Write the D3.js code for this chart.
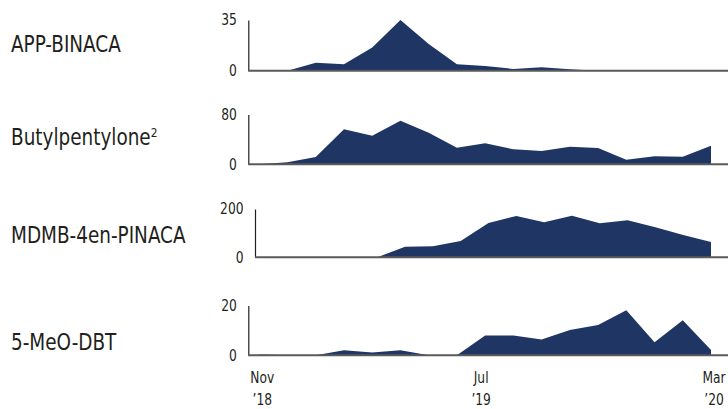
<!DOCTYPE html>
<html>
<head>
<meta charset="utf-8">
<script src="https://cdn.jsdelivr.net/npm/d3@7"></script>
<style>
  html, body { margin: 0; padding: 0; background: #fff; }
  svg { display: block; }
  text { font-family: "DejaVu Sans Condensed", "DejaVu Sans", sans-serif; fill: #231f20; }
</style>
</head>
<body>
<svg id="chart" width="728" height="409"></svg>
<script>
// ---- data ----
const months = ["Nov '18","Dec '18","Jan '19","Feb '19","Mar '19","Apr '19","May '19","Jun '19","Jul '19","Aug '19","Sep '19","Oct '19","Nov '19","Dec '19","Jan '20","Feb '20","Mar '20"];
const drugNames = ["APP-BINACA", "Butylpentylone", "MDMB-4en-PINACA", "5-MeO-DBT"];
const nameSuperscripts = ["", "2", "", ""];
const yMaxTicks = [35, 80, 200, 20];
const appBinaca      = [0, 0, 5.5, 4.4, 16, 35, 18.4, 4.4, 3.2, 1.2, 2.3, 1, 0, 0, 0, 0, 0];
const butylpentylone = [0, 3.2, 11.7, 56.5, 46, 70, 50.7, 26.7, 34, 24, 21.3, 28.3, 26.1, 7.5, 12.8, 12.3, 30];
const mdmb4en        = [0, 1, 1, 0.5, 0, 44, 45.5, 67.6, 142, 171, 145, 172, 141, 153, 124, 92, 63];
const meoDbt         = [0.3, 0, 0, 2, 1.1, 2, 0, 0, 8, 8, 6.3, 10.2, 12.2, 18.1, 5.2, 14.1, 2.1];
const seriesValues = [appBinaca, butylpentylone, mdmb4en, meoDbt];
const xTickMonths = ["Nov '18", "Jul '19", "Mar '20"];
const xTickLines = [["Nov", "\u201918"], ["Jul", "\u201919"], ["Mar", "\u201920"]];

// ---- layout ----
const svg = d3.select("#chart");
const panelTops = [20, 114.5, 209, 305.5];
const panelBottoms = [70.7, 164.3, 257.3, 355.3];
const labelBaselines = [52, 145, 243, 350];
const areaColor = "#1f3564";
const squeeze = 0.88;      // horizontal condensing to mimic a condensed face
const labelSqueeze = 0.91;
const xLabelNudge = [3, -4, 3];

seriesValues.forEach((vals, i) => {
  const g = svg.append("g");
  const tickStr = String(yMaxTicks[i]);
  const axisX = tickStr.length >= 3 ? 255 : 248.3;
  const x = d3.scalePoint().domain(months).range([axisX + 11, 711]);
  const y = d3.scaleLinear().domain([0, yMaxTicks[i]]).range([panelBottoms[i], panelTops[i]]);

  // area
  const area = d3.area()
    .x((d, j) => x(months[j]))
    .y0(y(0))
    .y1(d => y(d));
  g.append("path").datum(vals).attr("d", area).attr("fill", areaColor);

  // y axis
  const yAxis = d3.axisLeft(y).tickValues([0, yMaxTicks[i]]).tickSize(0).tickPadding(11.5);
  const ya = g.append("g").attr("transform", `translate(${axisX},0)`).call(yAxis);
  ya.attr("font-family", null);
  ya.select(".domain").attr("stroke", "#231f20").attr("stroke-width", 1.2);
  ya.selectAll("text").attr("font-size", 15.5)
    .attr("x", 0)
    .attr("transform", `translate(-11.5,0) scale(${squeeze},1)`)
    .attr("fill", "#231f20");

  // baseline
  g.append("line")
    .attr("x1", axisX).attr("x2", 728)
    .attr("y1", y(0)).attr("y2", y(0))
    .attr("stroke", "#5a5a5a").attr("stroke-width", 2);

  // series label
  const lx = 11;
  const t = g.append("text").attr("x", lx).attr("y", labelBaselines[i]).attr("font-size", 22.5)
    .attr("transform", `translate(${lx},0) scale(${labelSqueeze},1) translate(${-lx},0)`);
  t.append("tspan").text(drugNames[i]);
  if (nameSuperscripts[i]) {
    t.append("tspan").attr("font-size", 13).attr("dy", -8).text(nameSuperscripts[i]);
  }

  // x axis labels on last panel
  if (i === seriesValues.length - 1) {
    xTickMonths.forEach((m, k) => {
      const cx = x(m) + xLabelNudge[k];
      const tx = g.append("text").attr("x", cx).attr("y", 383)
        .attr("text-anchor", "middle").attr("font-size", 15.5)
        .attr("transform", `translate(${cx},0) scale(${squeeze},1) translate(${-cx},0)`);
      tx.append("tspan").attr("x", cx).text(xTickLines[k][0]);
      tx.append("tspan").attr("x", cx).attr("dy", 22).text(xTickLines[k][1]);
    });
  }
});
</script>
</body>
</html>
